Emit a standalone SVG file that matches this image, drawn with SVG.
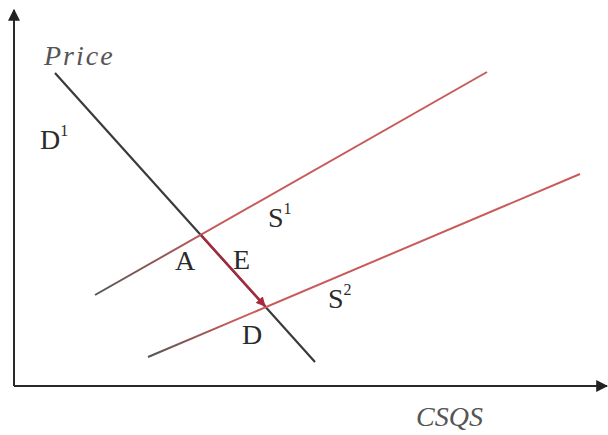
<svg xmlns="http://www.w3.org/2000/svg" width="608" height="435" viewBox="0 0 608 435">
<defs>
<style>
.lbl{font-family:"Liberation Serif","Times New Roman",serif;font-size:28px;fill:#2a2a2a}
.it{font-style:italic;fill:#555}
.ax{stroke:#2a2a2a;stroke-width:2;fill:none}
.dem{stroke:#3a3a3a;stroke-width:2.2;fill:none}
</style>
<marker id="ah" viewBox="0 0 10 10" refX="9" refY="5" markerWidth="6" markerHeight="6" orient="auto"><path d="M0,0 L10,5 L0,10 z" fill="#222"/></marker>
<marker id="rh" viewBox="0 0 10 10" refX="9" refY="5" markerWidth="4" markerHeight="4" orient="auto"><path d="M0,0 L10,5 L0,10 z" fill="#a8283c"/></marker>
<linearGradient id="g1" gradientUnits="userSpaceOnUse" x1="95" y1="295" x2="487" y2="72"><stop offset="0" stop-color="#555"/><stop offset="0.3" stop-color="#c85a5a"/><stop offset="1" stop-color="#c85a5a"/></linearGradient>
<linearGradient id="g2" gradientUnits="userSpaceOnUse" x1="148" y1="357" x2="580" y2="174"><stop offset="0" stop-color="#555"/><stop offset="0.2" stop-color="#c85a5a"/><stop offset="1" stop-color="#c85a5a"/></linearGradient>
</defs>
<rect width="608" height="435" fill="#fff"/>
<g id="connectors">
<line class="ax" x1="14" y1="386" x2="14" y2="10" marker-end="url(#ah)"/>
<line class="ax" x1="14" y1="386" x2="607" y2="386" marker-end="url(#ah)"/>
<line id="demand" class="dem" x1="55" y1="73" x2="315" y2="362"/>
<line id="s1" x1="95" y1="295" x2="487" y2="72" stroke="url(#g1)" stroke-width="2"/>
<line id="s2" x1="148" y1="357" x2="580" y2="174" stroke="url(#g2)" stroke-width="2"/>
<line id="shift" x1="201" y1="235" x2="265" y2="306" stroke="#a8283c" stroke-width="2.4" marker-end="url(#rh)"/>
</g>
<g id="labels">
<text class="lbl it" x="44" y="65" font-size="30" letter-spacing="2">Price</text>
<text class="lbl" x="40" y="149">D<tspan font-size="16" dy="-13">1</tspan></text>
<text class="lbl" x="268" y="227">S<tspan font-size="16" dy="-13">1</tspan></text>
<text class="lbl" x="328" y="308">S<tspan font-size="16" dy="-13">2</tspan></text>
<text class="lbl" x="175" y="270">A</text>
<text class="lbl" x="233" y="269">E</text>
<text class="lbl" x="242" y="344">D</text>
<text class="lbl it" x="416" y="426" font-size="34">CSQS</text>
</g>
</svg>
